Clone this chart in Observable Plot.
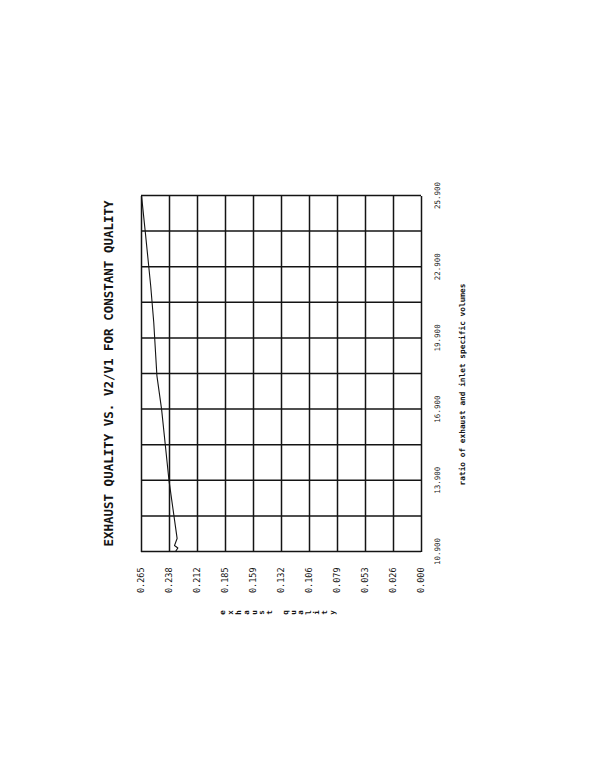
<!DOCTYPE html>
<html>
<head>
<meta charset="utf-8">
<script src="https://cdn.jsdelivr.net/npm/d3@7"></script>
<script src="https://cdn.jsdelivr.net/npm/@observablehq/plot@0.6"></script>
<style>
  html, body { margin: 0; padding: 0; background: #fff; }
  #page { position: relative; width: 612px; height: 779px; overflow: hidden; background: #fff; }
  #page svg {
    position: absolute; left: 0; top: 0;
    width: 779px !important; height: 612px !important; max-width: none !important;
    transform-origin: 0 0; transform: translate(0px, 779px) rotate(-90deg);
  }
</style>
</head>
<body>
<div id="page"></div>
<script>
// ---- data ----
const titleText = "EXHAUST QUALITY VS. V2/V1 FOR CONSTANT QUALITY";
const xLabelText = "ratio of exhaust and inlet specific volumes";
const yLabelText = "exhaust quality";

const ratioTicks = [10.9, 13.9, 16.9, 19.9, 22.9, 25.9];
const ratioTickLabels = ["10.900", "13.900", "16.900", "19.900", "22.900", "25.900"];
const ratioGrid = [10.9, 12.4, 13.9, 15.4, 16.9, 18.4, 19.9, 21.4, 22.9, 24.4, 25.9];

const qualityTicks = [0.000, 0.0265, 0.053, 0.0795, 0.106, 0.1325, 0.159, 0.1855, 0.212, 0.2385, 0.265];
const qualityTickLabels = ["0.000", "0.026", "0.053", "0.079", "0.106", "0.132", "0.159", "0.185", "0.212", "0.238", "0.265"];

const ratio   = [10.9,   11.05,  11.15,  11.45,  13.9,   16.9,   18.3,   20.55,  22.1,   24.4,   25.9];
const quality = [0.2328, 0.2306, 0.2338, 0.2313, 0.2390, 0.2460, 0.2504, 0.2534, 0.2563, 0.2615, 0.2650];

const rows = ratio.map((r, i) => ({ratio: r, quality: quality[i]}));

const ink = "#141414";
const mono = "'DejaVu Sans Mono', 'Liberation Mono', monospace";

const chart = Plot.plot({
  width: 779,
  height: 612,
  marginLeft: 227,
  marginRight: 196,
  marginTop: 141,
  marginBottom: 191,
  x: {domain: [10.9, 25.9]},
  y: {domain: [0, 0.265]},
  style: {fontFamily: mono, background: "#fff", color: ink, overflow: "visible"},
  marks: [
    Plot.ruleX(ratioGrid, {stroke: ink, strokeWidth: 1.5}),
    Plot.ruleY(qualityTicks, {stroke: ink, strokeWidth: 1.5}),
    Plot.line(rows, {x: "ratio", y: "quality", stroke: ink, strokeWidth: 1.1}),
    Plot.axisX({
      ticks: ratioTicks,
      tickFormat: d => ratioTickLabels[ratioTicks.indexOf(d)],
      tickSize: 0, tickPadding: 13, fontSize: 7.5, label: null
    }),
    Plot.axisY({
      ticks: qualityTicks,
      tickFormat: d => qualityTickLabels[qualityTicks.indexOf(d)],
      tickSize: 0, tickPadding: 16, fontSize: 8.5, label: null
    }),
    Plot.text([titleText], {
      text: d => d, frameAnchor: "top", dy: -33, lineAnchor: "middle",
      fontSize: 12.5, fontWeight: "bold", fill: ink
    }),
    Plot.text([xLabelText], {
      text: d => d, frameAnchor: "bottom", dy: 41, dx: -11, lineAnchor: "middle",
      fontSize: 7.8, fontWeight: "bold", fill: ink
    }),
    Plot.text([yLabelText.split("").join("\n")], {
      text: d => d, frameAnchor: "left", dx: -61, dy: -4, textAnchor: "middle",
      lineAnchor: "middle", lineHeight: 1.04, fontSize: 7.5, fontWeight: "bold", fill: ink
    })
  ]
});

document.getElementById("page").appendChild(chart);
</script>
</body>
</html>
